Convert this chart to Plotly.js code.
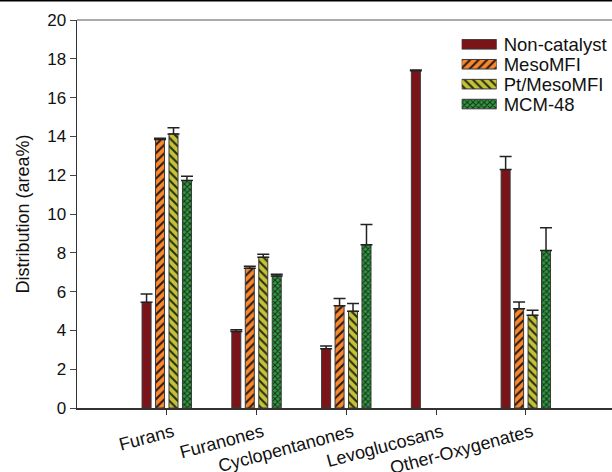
<!DOCTYPE html>
<html>
<head>
<meta charset="utf-8">
<script src="https://cdn.plot.ly/plotly-3.0.1.min.js"></script>
<style>html,body{margin:0;padding:0;background:#fff;}#chart{width:612px;height:472px;}</style>
</head>
<body>
<div id="chart"></div>
<script>
const categories = ["Furans", "Furanones", "Cyclopentanones", "Levoglucosans", "Other-Oxygenates"];
const seriesNames = ["Non-catalyst", "MesoMFI", "Pt/MesoMFI", "MCM-48"];
// null = no bar drawn in the reference (Levoglucosans only for Non-catalyst)
const nonCatalyst = [5.45, 3.94, 3.05, 17.38, 12.29];
const nonCatalystErr = [0.43, 0.09, 0.15, 0.04, 0.67];
const mesoMFI = [13.84, 7.21, 5.27, null, 5.11];
const mesoMFIErr = [0.07, 0.10, 0.37, null, 0.36];
const ptMesoMFI = [14.13, 7.77, 4.99, null, 4.78];
const ptMesoMFIErr = [0.31, 0.16, 0.40, null, 0.26];
const mcm48 = [11.73, 6.81, 8.41, null, 8.12];
const mcm48Err = [0.22, 0.09, 1.05, null, 1.17];
const yTicks = [0, 2, 4, 6, 8, 10, 12, 14, 16, 18, 20];

const values = [nonCatalyst, mesoMFI, ptMesoMFI, mcm48];
const errs = [nonCatalystErr, mesoMFIErr, ptMesoMFIErr, mcm48Err];
const colors = ["#7b1418", "#f7882f", "#c3c33a", "#2a8c3c"];
const patterns = [
  null,
  {shape: "/", fgcolor: "#2a1a10", bgcolor: "#f7882f", size: 6, solidity: 0.35},
  {shape: "\\", fgcolor: "#2a2a10", bgcolor: "#c3c33a", size: 6, solidity: 0.35},
  {shape: "x", fgcolor: "#1c2e1c", bgcolor: "#2e9a40", size: 4, solidity: 0.45}
];
const xIdx = categories.map((c, i) => i);

function markerFor(k) {
  const m = {color: colors[k], line: {color: "#3a3a3a", width: 1}};
  if (patterns[k]) m.pattern = patterns[k];
  return m;
}

const traces = seriesNames.map((name, k) => ({
  type: "bar",
  name: name,
  x: xIdx,
  y: values[k],
  marker: markerFor(k),
  showlegend: false,
  error_y: {
    type: "data", symmetric: false, array: errs[k],
    arrayminus: errs[k].map(v => v === null ? null : 0),
    color: "#222", thickness: 1.5, width: 6, visible: true
  },
  hoverinfo: "skip"
}));

// Legend key: one swatch per series on a small inset axis
seriesNames.forEach((name, k) => {
  traces.push({
    type: "bar", orientation: "h", name: name,
    x: [1], y: [name],
    xaxis: "x2", yaxis: "y2", width: 0.48, offset: -0.24,
    showlegend: false, hoverinfo: "skip",
    marker: markerFor(k)
  });
});

const layout = {
  width: 612, height: 472,
  margin: {l: 77, r: 0, t: 20, b: 64},
  paper_bgcolor: "#fff", plot_bgcolor: "rgba(0,0,0,0)",
  font: {family: "Liberation Sans, Arial, sans-serif", size: 17, color: "#111"},
  barmode: "group", bargap: 0.4, bargroupgap: 0.33,
  showlegend: false,
  xaxis: {
    range: [-1, 4.96], tickmode: "array", tickvals: xIdx, ticktext: categories,
    tickangle: -15, ticks: "outside", ticklen: 5, tickwidth: 1, tickcolor: "#333",
    showline: true, linecolor: "#333", linewidth: 2, showgrid: false, zeroline: false,
    tickfont: {size: 18}, ticklabelshift: 6
  },
  yaxis: {
    range: [0, 20], tickmode: "array", tickvals: yTicks, ticks: "outside",
    ticklen: 6, tickwidth: 1, tickcolor: "#444",
    showline: true, linecolor: "#333", linewidth: 1.5, showgrid: false, zeroline: false,
    tickfont: {size: 17},
    title: {text: "Distribution (area%)", font: {size: 18}, standoff: 13}
  },
  xaxis2: {domain: [0.719, 0.7845], range: [0, 1], anchor: "y2", visible: false, fixedrange: true},
  yaxis2: {domain: [0.7577, 0.9629], anchor: "x2", type: "category", autorange: "reversed",
    tickmode: "array", tickvals: seriesNames, ticktext: seriesNames,
    side: "right", showline: false, showgrid: false, zeroline: false, ticks: "",
    tickfont: {size: 18.5, color: "#111"}, ticklabelstandoff: 6, fixedrange: true},
  shapes: [
    {type: "line", xref: "paper", yref: "paper", x0: 0, x1: 1, y0: 1, y1: 1,
     line: {color: "#555", width: 1}},
    {type: "line", xref: "paper", yref: "paper", x0: -0.2, x1: 1.05, y0: 1.0505, y1: 1.0505,
     line: {color: "#000", width: 2}}
  ]
};

Plotly.newPlot("chart", traces, layout, {displayModeBar: false, staticPlot: true});
</script>
</body>
</html>
